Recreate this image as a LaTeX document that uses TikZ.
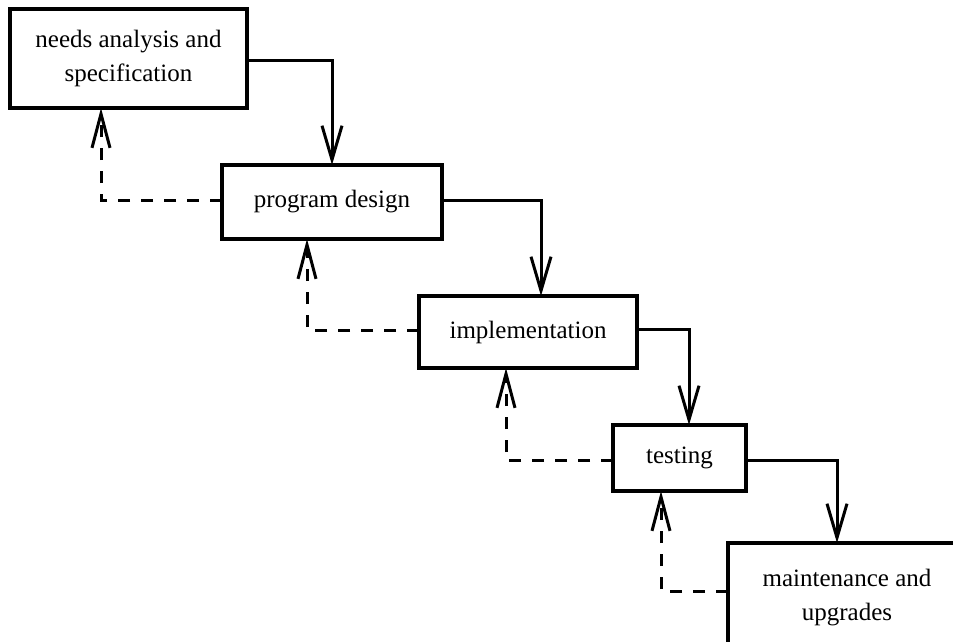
\documentclass[tikz,border=0pt]{standalone}
\usepackage{fontspec}
\setmainfont{Liberation Serif}
\usetikzlibrary{arrows.meta}
\begin{document}
\begin{tikzpicture}[x=1pt,y=-1pt,
  stage/.style={draw=black,line width=3.6pt,fill=white,inner sep=0pt,align=center,
    outer sep=0pt,font=\fontsize{25}{34}\selectfont},
  flow/.style={line width=3pt,-{Straight Barb[length=34pt,width=20pt,line width=3pt]}},
  back/.style={line width=3pt,dash pattern=on 12pt off 11pt,
    -{Straight Barb[length=34pt,width=18pt,line width=3pt]}}]
\clip (0,0) rectangle (953,641);
\fill[white] (0,0) rectangle (953,641);
\node[stage,minimum width=237pt,minimum height=99pt] (b1) at (128.5,58.5) {needs analysis and\\specification};
\node[stage,minimum width=220pt,minimum height=74pt] (b2) at (332,202) {program design};
\node[stage,minimum width=218pt,minimum height=72pt] (b3) at (528,332) {implementation};
\node[stage,minimum width=133pt,minimum height=66pt] (b4) at (679.5,458) {testing};
\node[stage,minimum width=238pt,minimum height=110pt] (b5) at (847,598) {maintenance and\\upgrades};
% forward flow
\draw[flow] ([yshift=-1.5pt]b1.east) -| (b2.north);
\draw[flow] ([yshift=2pt]b2.east) -| ([xshift=13pt]b3.north);
\draw[flow] ([yshift=3pt]b3.east) -| ([xshift=9.5pt]b4.north);
\draw[flow] ([yshift=-2pt]b4.east) -| ([xshift=-10pt]b5.north);
% feedback
\draw[back] ([yshift=2pt]b2.west) -| ([xshift=-27.5pt]b1.south);
\draw[back] ([yshift=2pt]b3.west) -| ([xshift=-25pt]b2.south);
\draw[back] ([yshift=-2pt]b4.west) -| ([xshift=-22pt]b3.south);
\draw[back] ([yshift=7pt]b5.west) -| ([xshift=-18.5pt]b4.south);
\end{tikzpicture}
\end{document}
